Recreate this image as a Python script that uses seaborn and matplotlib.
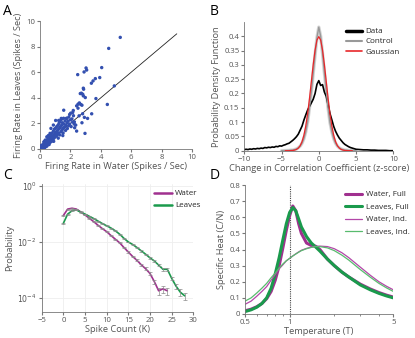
import numpy as np
import pandas as pd
import matplotlib
matplotlib.use("Agg")
import matplotlib.pyplot as plt
import seaborn as sns

# ---- Panel A: firing rates (water vs leaves) ----
water_rate = [5.28, 4.52, 4.06, 3.03, 3.07, 2.90, 2.48, 3.93, 3.64, 3.49, 3.38, 2.85, 2.87, 4.89,
              2.72, 2.65, 2.81, 2.85, 2.98, 3.68, 2.59, 2.68, 2.50, 2.76, 2.41, 2.50, 4.43, 1.56,
              2.19, 2.02, 1.95, 2.15, 3.40, 2.92, 3.13, 2.76, 2.28, 2.57, 2.80, 2.96, 2.35, 2.41,
              0.05, 0.08, 0.10, 0.12, 0.15, 0.18, 0.20, 0.22, 0.25, 0.28, 0.30, 0.32, 0.35, 0.38,
              0.40, 0.42, 0.45, 0.48, 0.50, 0.52, 0.55, 0.58, 0.60, 0.62, 0.65, 0.68, 0.70, 0.72,
              0.75, 0.78, 0.80, 0.82, 0.85, 0.88, 0.90, 0.92, 0.95, 0.98, 1.00, 1.02, 1.05, 1.08,
              1.10, 1.12, 1.15, 1.18, 1.20, 1.22, 1.25, 1.28, 1.30, 1.32, 1.35, 1.38, 1.40, 1.42,
              1.45, 1.48, 1.50, 1.52, 1.55, 1.58, 1.60, 1.65, 1.68, 1.70, 1.75, 1.78, 1.80, 1.85,
              1.88, 1.90, 1.95, 2.00, 2.05, 2.10, 2.15, 2.20, 2.25, 2.26, 0.60, 0.90, 1.20, 1.50,
              0.88, 0.72, 1.03, 1.23, 1.40, 1.75, 0.15, 0.25, 0.35, 0.10, 0.45, 0.55, 0.30, 0.66]
leaves_rate = [8.72, 7.86, 6.36, 6.33, 6.17, 6.02, 5.81, 5.58, 5.50, 5.32, 5.14, 4.75, 4.67, 4.93,
               4.36, 4.33, 4.28, 4.15, 4.02, 3.94, 3.60, 3.48, 3.50, 3.42, 3.37, 3.19, 3.48, 3.03,
               3.01, 2.80, 2.70, 2.85, 2.75, 2.47, 2.39, 2.05, 1.66, 2.59, 2.75, 1.22, 1.87, 1.40,
               0.02, 0.10, 0.05, 0.18, 0.08, 0.25, 0.12, 0.35, 0.20, 0.05, 0.42, 0.28, 0.15, 0.50,
               0.32, 0.62, 0.22, 0.45, 0.75, 0.58, 0.35, 0.92, 0.68, 0.48, 1.00, 0.80, 0.55, 1.10,
               0.90, 0.62, 1.25, 0.98, 0.72, 1.40, 1.08, 0.85, 1.55, 1.20, 0.95, 1.62, 1.30, 1.02,
               1.75, 1.40, 1.15, 1.85, 1.52, 1.25, 2.00, 1.62, 1.10, 2.15, 1.75, 1.35, 2.30, 1.85,
               1.48, 2.05, 1.60, 1.25, 2.40, 1.95, 1.70, 2.20, 1.45, 1.85, 2.40, 2.05, 1.60, 2.18,
               1.82, 2.50, 1.95, 2.28, 1.75, 2.35, 2.10, 2.60, 1.95, 2.12, 0.35, 0.60, 0.85, 1.05,
               1.87, 1.61, 2.23, 2.23, 2.39, 2.39, 0.30, 0.55, 0.70, 0.28, 0.95, 1.05, 0.60, 1.22]
unity = [0, 9]

# ---- Panel B: change in correlation coefficient ----
data_x = [-10, -9.75, -9.5, -9.25, -9, -8.75, -8.5, -8.25, -8, -7.75, -7.5, -7.25, -7, -6.75,
          -6.5, -6.25, -6, -5.75, -5.5, -5.25, -5, -4.75, -4.5, -4.25, -4, -3.75, -3.5, -3.25,
          -3, -2.75, -2.5, -2.25, -2, -1.75, -1.5, -1.25, -1, -0.75, -0.5, -0.25, 0, 0.25, 0.5,
          0.75, 1, 1.25, 1.5, 1.75, 2, 2.25, 2.5, 2.75, 3, 3.25, 3.5, 3.75, 4, 4.25, 4.5, 4.75,
          5, 5.5, 6, 6.5, 7, 7.5, 8, 8.5, 9, 9.5, 10]
data_pdf = [0.004, 0.005, 0.004, 0.006, 0.005, 0.007, 0.006, 0.008, 0.007, 0.009, 0.008, 0.011,
            0.010, 0.012, 0.011, 0.013, 0.012, 0.015, 0.014, 0.017, 0.016, 0.019, 0.021, 0.024,
            0.026, 0.031, 0.036, 0.042, 0.049, 0.058, 0.072, 0.086, 0.107, 0.125, 0.142, 0.155,
            0.167, 0.180, 0.200, 0.232, 0.245, 0.228, 0.231, 0.205, 0.190, 0.160, 0.130, 0.108,
            0.085, 0.068, 0.055, 0.044, 0.036, 0.028, 0.022, 0.018, 0.014, 0.011, 0.009, 0.007,
            0.005, 0.004, 0.003, 0.003, 0.002, 0.002, 0.001, 0.001, 0.001, 0.000, 0.000]
ctrl_x = [-5, -4, -3.75, -3.5, -3.25, -3, -2.75, -2.5, -2.25, -2, -1.75, -1.5, -1.25, -1, -0.75,
          -0.5, -0.25, 0, 0.25, 0.5, 0.75, 1, 1.25, 1.5, 1.75, 2, 2.25, 2.5, 2.75, 3, 3.25, 3.5,
          3.75, 4, 5]
ctrl_pdf = [0.0, 0.001, 0.002, 0.002, 0.004, 0.006, 0.010, 0.016, 0.026, 0.042, 0.066, 0.100,
            0.150, 0.205, 0.270, 0.335, 0.395, 0.432, 0.400, 0.340, 0.272, 0.208, 0.148, 0.098,
            0.066, 0.042, 0.026, 0.016, 0.010, 0.006, 0.004, 0.002, 0.002, 0.001, 0.0]
gauss_x = [-4.5, -4, -3.75, -3.5, -3.25, -3, -2.75, -2.5, -2.25, -2, -1.75, -1.5, -1.25, -1,
           -0.75, -0.5, -0.25, 0, 0.25, 0.5, 0.75, 1, 1.25, 1.5, 1.75, 2, 2.25, 2.5, 2.75, 3,
           3.25, 3.5, 3.75, 4, 4.5]
gauss_pdf = [0.0, 0.0001, 0.0004, 0.0009, 0.002, 0.0044, 0.0091, 0.0175, 0.0317, 0.054, 0.0863,
             0.1295, 0.1826, 0.242, 0.3011, 0.3521, 0.3867, 0.3989, 0.3867, 0.3521, 0.3011,
             0.242, 0.1826, 0.1295, 0.0863, 0.054, 0.0317, 0.0175, 0.0091, 0.0044, 0.002,
             0.0009, 0.0004, 0.0001, 0.0]

# ---- Panel C: spike count distributions (log10 probability) ----
k_water = list(range(0, 25))
log_p_water = [-1.05, -0.82, -0.79, -0.82, -0.92, -1.03, -1.15, -1.27, -1.40, -1.52, -1.63,
               -1.77, -1.90, -2.03, -2.20, -2.36, -2.52, -2.66, -2.82, -2.96, -3.13, -3.42,
               -3.75, -3.68, -3.75]
k_leaves = list(range(0, 29))
log_p_leaves = [-1.33, -1.00, -0.88, -0.85, -0.93, -1.00, -1.08, -1.16, -1.25, -1.34, -1.42,
                -1.50, -1.60, -1.72, -1.87, -2.00, -2.09, -2.20, -2.32, -2.44, -2.57, -2.68,
                -2.83, -2.98, -2.98, -3.30, -3.58, -3.80, -3.93]
# relative error (fraction of value)
rel_err_water = [0.04] * 15 + [0.06, 0.07, 0.08, 0.09, 0.11, 0.13, 0.17, 0.30, 0.28, 0.30]
rel_err_leaves = [0.04] * 18 + [0.05, 0.06, 0.07, 0.08, 0.09, 0.10, 0.12, 0.15, 0.20, 0.26, 0.30]

# ---- Panel D: specific heat vs temperature ----
temp = [0.5, 0.55, 0.6, 0.65, 0.7, 0.75, 0.8, 0.85, 0.9, 0.95, 1.0, 1.05, 1.1, 1.15, 1.2, 1.3,
        1.4, 1.5, 1.6, 1.8, 2.0, 2.25, 2.5, 3.0, 3.5, 4.0, 4.5, 5.0]
heat_water_full = [0.02, 0.03, 0.045, 0.065, 0.095, 0.14, 0.21, 0.30, 0.41, 0.52, 0.61, 0.67,
                   0.64, 0.56, 0.50, 0.44, 0.425, 0.42, 0.40, 0.34, 0.30, 0.26, 0.23, 0.185,
                   0.155, 0.133, 0.117, 0.105]
heat_leaves_full = [0.015, 0.026, 0.042, 0.065, 0.10, 0.16, 0.25, 0.35, 0.46, 0.56, 0.63, 0.66,
                    0.64, 0.59, 0.54, 0.48, 0.44, 0.415, 0.39, 0.34, 0.30, 0.26, 0.23, 0.18,
                    0.15, 0.128, 0.112, 0.10]
heat_water_ind = [0.06, 0.08, 0.11, 0.14, 0.17, 0.21, 0.245, 0.28, 0.305, 0.33, 0.345, 0.36,
                  0.373, 0.385, 0.395, 0.407, 0.415, 0.42, 0.421, 0.418, 0.405, 0.38, 0.35,
                  0.29, 0.24, 0.20, 0.172, 0.15]
heat_leaves_ind = [0.08, 0.10, 0.13, 0.16, 0.19, 0.225, 0.255, 0.285, 0.31, 0.33, 0.345, 0.36,
                   0.372, 0.383, 0.393, 0.405, 0.413, 0.418, 0.418, 0.41, 0.393, 0.365, 0.335,
                   0.275, 0.228, 0.19, 0.162, 0.14]

# ---- style ----
sns.set_style("ticks")
plt.rcParams["font.family"] = ["Open Sans", "DejaVu Sans"]
plt.rcParams["font.size"] = 5.6
plt.rcParams["axes.edgecolor"] = "#777777"
plt.rcParams["xtick.color"] = "#777777"
plt.rcParams["ytick.color"] = "#777777"
plt.rcParams["xtick.labelcolor"] = "#555555"
plt.rcParams["ytick.labelcolor"] = "#555555"
plt.rcParams["axes.labelcolor"] = "#555555"
plt.rcParams["axes.linewidth"] = 0.6
plt.rcParams["xtick.major.size"] = 2
plt.rcParams["ytick.major.size"] = 2
plt.rcParams["xtick.major.pad"] = 1.5
plt.rcParams["ytick.major.pad"] = 1.5
LAB = 6.7
LEG = 5.8

PURPLE = "#a0308f"
GREEN = "#1a9a4c"

fig = plt.figure(figsize=(4.15, 3.38), dpi=100)

# A
axA = fig.add_axes([40 / 415, 1 - 149 / 338, 152 / 415, 128 / 338])
dfA = pd.DataFrame({"water": water_rate, "leaves": leaves_rate})
sns.scatterplot(data=dfA, x="water", y="leaves", ax=axA, s=6, color="#3350b0",
                edgecolor="none", zorder=3)
axA.plot(unity, unity, color="#222222", lw=0.6, zorder=2)
axA.set_xlim(0, 10)
axA.set_ylim(0, 10)
axA.set_xticks([0, 2, 4, 6, 8, 10])
axA.set_yticks([0, 2, 4, 6, 8, 10])
axA.set_xlabel("Firing Rate in Water (Spikes / Sec)", fontsize=LAB, labelpad=1)
axA.set_ylabel("Firing Rate in Leaves (Spikes / Sec)", fontsize=LAB, labelpad=2)
sns.despine(ax=axA)

# B
axB = fig.add_axes([244.3 / 415, 1 - 150.7 / 338, 149 / 415, 128.7 / 338])
sns.lineplot(x=ctrl_x, y=ctrl_pdf, ax=axB, color="#d4d4d4", lw=2.4, label="_nolegend_")
sns.lineplot(x=data_x, y=data_pdf, ax=axB, color="black", lw=1.2, label="Data")
sns.lineplot(x=ctrl_x, y=ctrl_pdf, ax=axB, color="#999999", lw=1.0, label="Control")
sns.lineplot(x=gauss_x, y=gauss_pdf, ax=axB, color="#e8272a", lw=0.9, label="Gaussian")
axB.set_xlim(-10, 10)
axB.set_ylim(0, 0.45)
axB.set_xticks([-10, -5, 0, 5, 10])
axB.set_yticks([0, 0.05, 0.1, 0.15, 0.2, 0.25, 0.3, 0.35, 0.4])
axB.set_yticklabels(["0", "0.05", "0.1", "0.15", "0.2", "0.25", "0.3", "0.35", "0.4"])
axB.set_xlabel("Change in Correlation Coefficient (z-score)", fontsize=LAB, labelpad=1)
axB.set_ylabel("Probability Density Function", fontsize=LAB, labelpad=2)
legB = axB.legend(loc="upper left", bbox_to_anchor=(0.66, 0.98), frameon=False, fontsize=LEG,
                  handlelength=2.0, handletextpad=0.4, labelspacing=0.3, borderaxespad=0)
for h, w in zip(legB.get_lines(), [2.5, 1.5, 1.2]):
    h.set_linewidth(w)
sns.despine(ax=axB)

# C
axC = fig.add_axes([41.7 / 415, 1 - 311.7 / 338, 151.6 / 415, 127.7 / 338])
p_water = [10 ** v for v in log_p_water]
p_leaves = [10 ** v for v in log_p_leaves]
sns.lineplot(x=k_water, y=p_water, ax=axC, color=PURPLE, lw=1.2, label="Water", zorder=3)
sns.lineplot(x=k_leaves, y=p_leaves, ax=axC, color=GREEN, lw=1.2, label="Leaves", zorder=3)
axC.errorbar(k_water, p_water, yerr=[p * e for p, e in zip(p_water, rel_err_water)],
             fmt="none", ecolor="#8a8a8a", elinewidth=0.5, capsize=1.2, capthick=0.5, zorder=4)
axC.errorbar(k_leaves, p_leaves, yerr=[p * e for p, e in zip(p_leaves, rel_err_leaves)],
             fmt="none", ecolor="#8a8a8a", elinewidth=0.5, capsize=1.2, capthick=0.5, zorder=4)
axC.set_yscale("log")
axC.set_xlim(-5, 30)
axC.set_ylim(10 ** -4.5, 1.2)
axC.set_xticks([-5, 0, 5, 10, 15, 20, 25, 30])
axC.set_yticks([1, 1e-2, 1e-4])
axC.set_yticklabels(["$10^{0}$", "$10^{-2}$", "$10^{-4}$"])
axC.yaxis.set_minor_locator(matplotlib.ticker.NullLocator())
axC.grid(True, color="#eeeeee", lw=0.6)
axC.set_axisbelow(True)
axC.set_xlabel("Spike Count (K)", fontsize=LAB, labelpad=1)
axC.set_ylabel("Probability", fontsize=LAB, labelpad=2)
legC = axC.legend(loc="upper left", bbox_to_anchor=(0.72, 0.98), frameon=False, fontsize=LEG,
                  handlelength=2.2, handletextpad=0.4, labelspacing=0.55, borderaxespad=0)
for h in legC.get_lines():
    h.set_linewidth(1.8)
sns.despine(ax=axC)

# D
axD = fig.add_axes([245 / 415, 1 - 314 / 338, 148.3 / 415, 129 / 338])
sns.lineplot(x=temp, y=heat_water_full, ax=axD, color=PURPLE, lw=2.2, label="Water, Full")
sns.lineplot(x=temp, y=heat_leaves_full, ax=axD, color=GREEN, lw=2.2, label="Leaves, Full")
sns.lineplot(x=temp, y=heat_water_ind, ax=axD, color="#b347a8", lw=0.9, label="Water, Ind.")
sns.lineplot(x=temp, y=heat_leaves_ind, ax=axD, color="#58bb6e", lw=0.9, label="Leaves, Ind.")
axD.axvline(1.0, color="#444444", lw=0.8, ls=(0, (1, 1)), zorder=1)
axD.set_xscale("log")
axD.set_xlim(0.5, 5)
axD.set_ylim(0, 0.8)
axD.set_xticks([0.5, 1, 5])
axD.set_xticklabels(["0.5", "1", "5"])
axD.set_yticks([0, 0.1, 0.2, 0.3, 0.4, 0.5, 0.6, 0.7, 0.8])
axD.set_yticklabels(["0", "0.1", "0.2", "0.3", "0.4", "0.5", "0.6", "0.7", "0.8"])
axD.tick_params(axis="x", which="minor", length=1.2)
axD.xaxis.set_minor_formatter(matplotlib.ticker.NullFormatter())
axD.set_xlabel("Temperature (T)", fontsize=LAB, labelpad=1)
axD.set_ylabel("Specific Heat (C/N)", fontsize=LAB, labelpad=2)
axD.legend(loc="upper left", bbox_to_anchor=(0.65, 0.98), frameon=False, fontsize=LEG,
           handlelength=2.2, handletextpad=0.4, labelspacing=0.6, borderaxespad=0)
sns.despine(ax=axD)

# panel letters
for lab, (x, y) in zip("ABCD", [(3, 4), (210, 4), (3, 168), (210, 168)]):
    fig.text(x / 415, 1 - y / 338, lab, fontsize=10, va="top", ha="left", color="black")

fig.savefig("out.png", dpi=100)
